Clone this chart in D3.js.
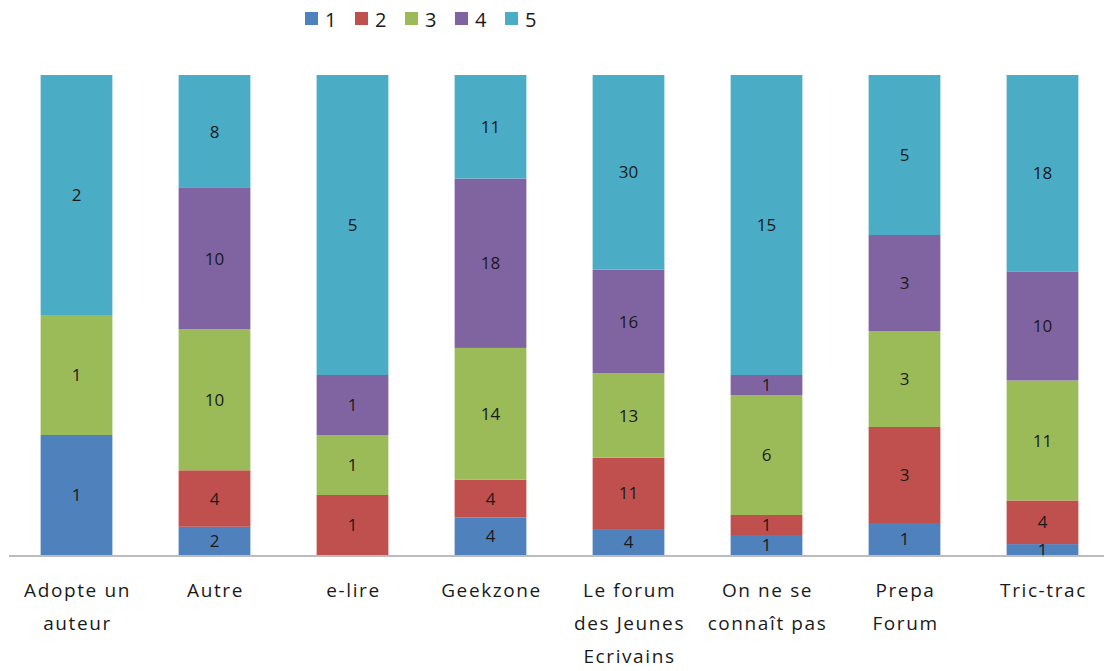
<!DOCTYPE html>
<html>
<head>
<meta charset="utf-8">
<script src="https://cdn.jsdelivr.net/npm/d3@7"></script>
<style>
  body { margin: 0; background: #fff; }
  svg { display: block; font-family: "Open Sans", Lato, sans-serif; }
</style>
</head>
<body>
<svg id="chart" width="1104" height="671"></svg>
<script>
// categories (line breaks as shown under the axis)
const categories = [
  "Adopte un\nauteur",
  "Autre",
  "e-lire",
  "Geekzone",
  "Le forum\ndes Jeunes\nEcrivains",
  "On ne se\nconnaît pas",
  "Prepa\nForum",
  "Tric-trac"
];
const seriesNames = ["1", "2", "3", "4", "5"];
const colors = ["#4F81BD", "#C0504D", "#9BBB59", "#8064A2", "#4BACC6"];

// counts per category, one array per series
const s1 = [1, 2, 0, 4, 4, 1, 1, 1];
const s2 = [0, 4, 1, 4, 11, 1, 3, 4];
const s3 = [1, 10, 1, 14, 13, 6, 3, 11];
const s4 = [0, 10, 1, 18, 16, 1, 3, 10];
const s5 = [2, 8, 5, 11, 30, 15, 5, 18];
const series = [s1, s2, s3, s4, s5];

const svg = d3.select("#chart");

const plotTop = 75, plotBottom = 555;

const x = d3.scaleBand()
  .domain(categories)
  .range([7.5, 1111.5])
  .paddingInner(0.48)
  .paddingOuter(0.24);

const y = d3.scaleLinear().domain([0, 1]).range([plotBottom, plotTop]);

// build stacked 100% table
const table = categories.map((c, i) => {
  const row = { cat: c };
  seriesNames.forEach((s, j) => row[s] = series[j][i]);
  return row;
});
const totals = categories.map((c, i) => d3.sum(series, s => s[i]));

const stack = d3.stack().keys(seriesNames)
  .value((d, k) => d[k] / totals[categories.indexOf(d.cat)]);
const layers = stack(table);

const g = svg.append("g");

layers.forEach((layer, j) => {
  const lg = g.append("g").attr("fill", colors[j]);
  lg.selectAll("rect")
    .data(layer)
    .enter()
    .append("rect")
    .attr("x", d => x(d.data.cat))
    .attr("width", x.bandwidth())
    .attr("y", d => y(d[1]))
    .attr("height", d => y(d[0]) - y(d[1]));
});

// data labels
layers.forEach((layer, j) => {
  g.append("g").selectAll("text")
    .data(layer.filter(d => d.data[layer.key] > 0))
    .enter()
    .append("text")
    .attr("x", d => x(d.data.cat) + x.bandwidth() / 2)
    .attr("y", d => (y(d[0]) + y(d[1])) / 2)
    .attr("dy", "0.36em")
    .attr("text-anchor", "middle")
    .attr("font-size", 17)
    .attr("fill", "#1a1a1a")
    .text(d => d.data[layer.key]);
});

// axis line
svg.append("line")
  .attr("x1", 9).attr("x2", 1104)
  .attr("y1", plotBottom + 1).attr("y2", plotBottom + 1)
  .attr("stroke", "#a6a6a6")
  .attr("stroke-width", 1.5);

// category labels
const cl = svg.append("g").selectAll("text")
  .data(categories)
  .enter()
  .append("text")
  .attr("text-anchor", "middle")
  .attr("font-size", 19)
  .attr("letter-spacing", 1.6)
  .attr("fill", "#1a1a1a")
  .attr("x", d => x(d) + x.bandwidth() / 2 + 1)
  .attr("y", 597);

cl.each(function (d) {
  const t = d3.select(this);
  d.split("\n").forEach((line, i) => {
    t.append("tspan")
      .attr("x", t.attr("x"))
      .attr("dy", i === 0 ? 0 : 33)
      .text(line);
  });
});

// legend
const legend = svg.append("g").attr("transform", "translate(305,12)");
legend.selectAll("g")
  .data(seriesNames)
  .enter()
  .append("g")
  .attr("transform", (d, i) => `translate(${i * 50},0)`)
  .each(function (d, i) {
    d3.select(this).append("rect")
      .attr("width", 13).attr("height", 13)
      .attr("fill", colors[i]);
    d3.select(this).append("text")
      .attr("x", 20).attr("y", 14.5)
      .attr("font-size", 20)
      .attr("fill", "#1a1a1a")
      .text(d);
  });
</script>
</body>
</html>
